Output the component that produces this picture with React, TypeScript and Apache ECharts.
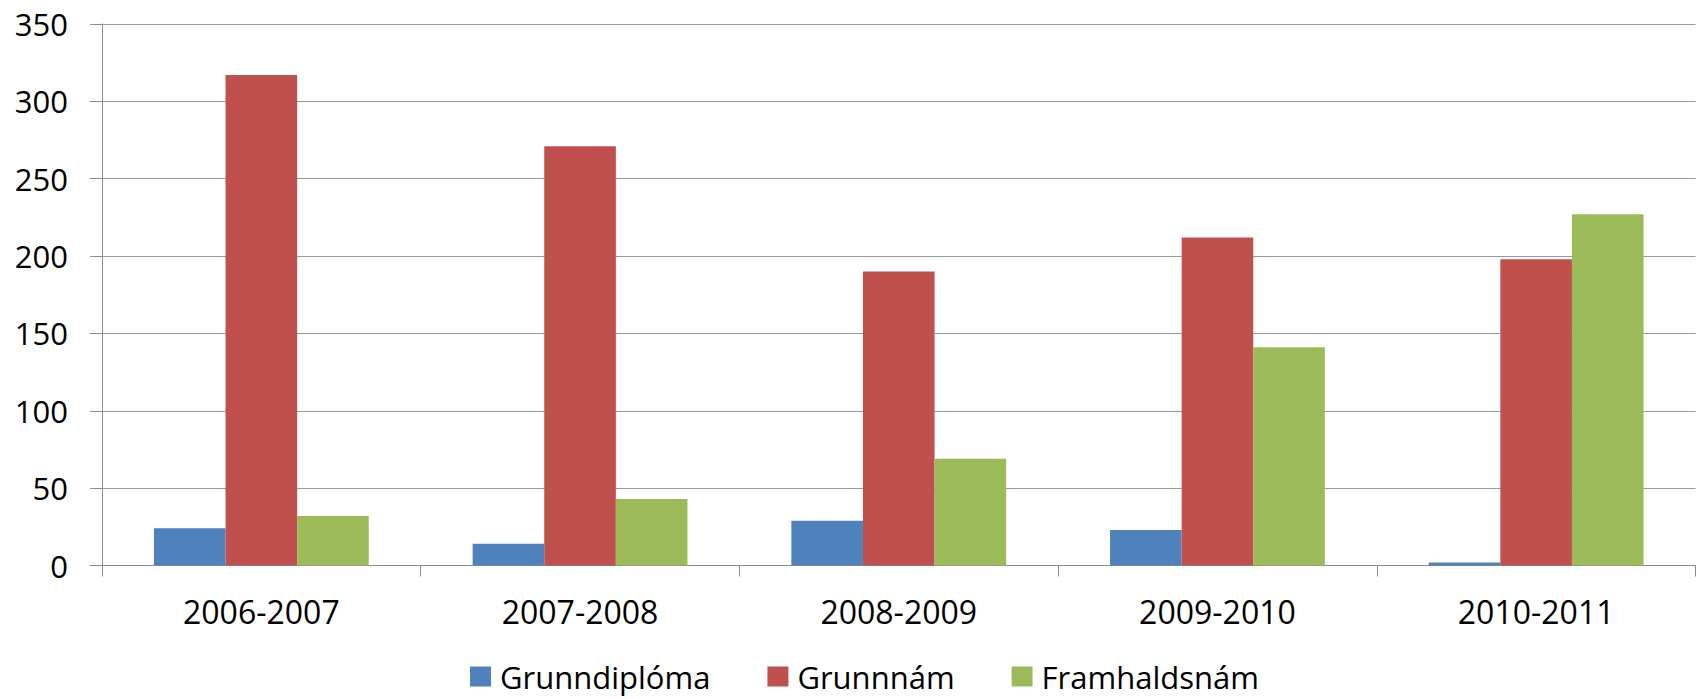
import React, { useEffect, useRef } from "react";
import * as echarts from "echarts";

const categories = ["2006-2007", "2007-2008", "2008-2009", "2009-2010", "2010-2011"];
const grunndiploma = [24, 14, 29, 23, 2];
const grunnnam = [317, 271, 190, 212, 198];
const framhaldsnam = [32, 43, 69, 141, 227];
const seriesNames = ["Grunndipl\u00f3ma", "Grunnn\u00e1m", "Framhaldsn\u00e1m"];
const colors = ["#4F81BD", "#C0504D", "#9BBB59"];

export default function App() {
  const ref = useRef<HTMLDivElement>(null);
  useEffect(() => {
    document.body.style.margin = "0";
    if (!ref.current) return;
    const chart = echarts.init(ref.current, undefined, { renderer: "svg" });
    const font = "'Open Sans', sans-serif";
    const mk = (name: string, data: number[], color: string) => ({
      name,
      type: "bar",
      data,
      barGap: "0%",
      barCategoryGap: "32.6%",
      itemStyle: { color },
    });
    chart.setOption({
      animation: false,
      backgroundColor: "#ffffff",
      grid: { left: 102, right: 6.5, top: 24, bottom: 133.5, containLabel: false },
      legend: {
        left: 470,
        top: 661,
        itemWidth: 21,
        itemHeight: 20,
        itemGap: 57,
        icon: "rect",
        padding: 0,
        textStyle: { fontFamily: font, fontSize: 31, lineHeight: 31, color: "#000", padding: [0, 0, 0, 4] },
        data: seriesNames,
      },
      xAxis: {
        type: "category",
        data: categories,
        axisLine: { show: true, lineStyle: { color: "#8C8C8C", width: 1 } },
        axisTick: { show: true, length: 11, lineStyle: { color: "#8C8C8C" } },
        axisLabel: { fontFamily: font, fontSize: 32, color: "#000", margin: 30 },
        splitLine: { show: false },
      },
      yAxis: {
        type: "value",
        min: 0,
        max: 350,
        interval: 50,
        axisLine: { show: true, lineStyle: { color: "#8C8C8C", width: 1 } },
        axisTick: { show: true, length: 12, lineStyle: { color: "#8C8C8C" } },
        axisLabel: { fontFamily: font, fontSize: 31, color: "#000", margin: 34 },
        splitLine: { show: true, lineStyle: { color: "#9A9A9A", width: 1 } },
      },
      series: [
        mk(seriesNames[0], grunndiploma, colors[0]),
        mk(seriesNames[1], grunnnam, colors[1]),
        mk(seriesNames[2], framhaldsnam, colors[2]),
      ],
    });
    return () => chart.dispose();
  }, []);
  return <div ref={ref} style={{ width: 1702, height: 699 }} />;
}
